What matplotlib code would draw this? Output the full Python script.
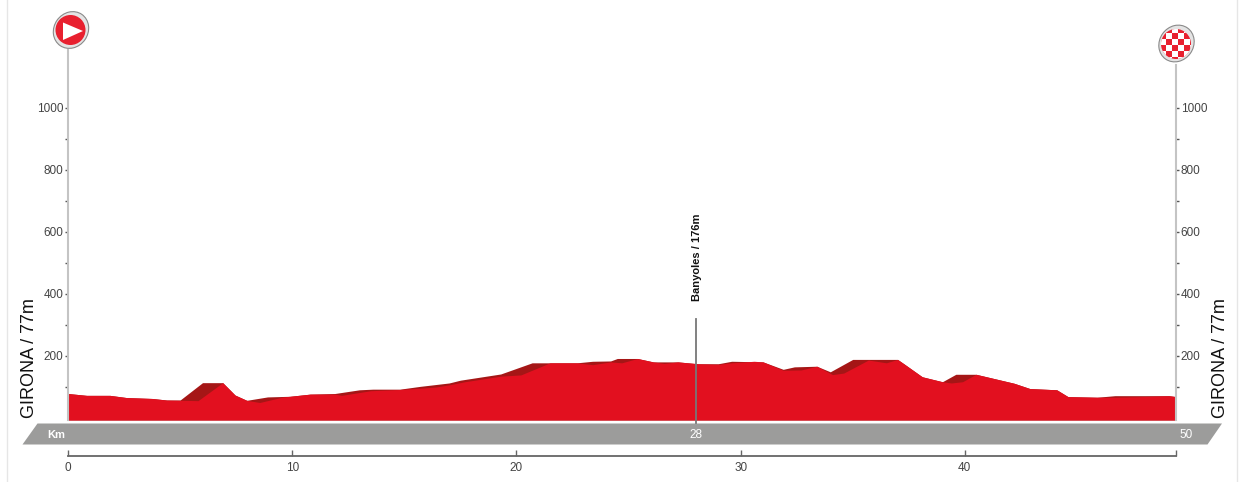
from matplotlib.patches import Ellipse, Polygon, Rectangle
import matplotlib.pyplot as plt

# Perfil trasero (oscuro) y frontal (rojo vivo), km / metros.
back_km = [0, 0.83, 1.87, 2.6, 3.75, 4.4, 5.0, 6.0, 6.9, 7.45, 7.97, 8.9, 9.9, 10.8, 11.9, 13.0,
           13.6, 14.8, 15.7, 17.0, 17.5, 19.3, 20.7, 22.7, 23.4, 24.2, 24.5, 25.4, 26.1, 27.2,
           28.1, 29.0, 29.6, 31.0, 31.9, 32.4, 33.4, 34.0, 35.0, 37.0, 37.3, 38.1, 39.0, 39.6,
           40.5, 42.2, 42.9, 44.1, 44.6, 45.9, 46.7, 49.1, 49.42]
back_m = [79, 73, 73, 66, 63, 58, 58, 114, 114, 74, 57, 68, 70, 77, 79, 91,
          93, 93, 102, 113, 122, 142, 178, 178, 183, 184, 192, 192, 181, 181,
          175, 175, 183, 181, 157, 165, 167, 149, 189, 189, 174, 133, 117, 141,
          141, 112, 95, 91, 69, 67, 72, 72, 69]

front_km = [0, 0.83, 1.87, 2.6, 3.75, 4.4, 5.8, 6.9, 7.45, 7.97, 8.55, 9.6, 9.9, 10.8, 11.9, 12.2,
            13.5, 14.8, 15.7, 16.4, 17.0, 17.7, 19.3, 20.2, 21.5, 22.7, 23.4, 24.2, 24.7, 25.4,
            26.1, 26.6, 27.2, 28.1, 29.0, 29.6, 30.6, 31.0, 31.9, 32.7, 33.4, 34.1, 34.6, 35.7,
            36.5, 37.0, 37.3, 38.1, 39.0, 39.4, 39.9, 40.5, 42.2, 42.9, 44.1, 44.6, 45.9, 46.7,
            47.9, 49.1, 49.42]
front_m = [79, 73, 73, 66, 63, 58, 56, 114, 74, 57, 50, 68, 70, 77, 77, 73,
           88, 92, 96, 100, 107, 117, 135, 139, 178, 178, 172, 181, 178, 192,
           181, 176, 181, 175, 173, 178, 183, 181, 154, 155, 167, 140, 145, 187,
           178, 189, 174, 133, 117, 113, 117, 141, 112, 95, 91, 69, 67, 67,
           69, 72, 69]

elev_ticks = [100, 200, 300, 400, 500, 600, 700, 800, 900, 1000]
elev_labels = ["", "200", "", "400", "", "600", "", "800", "", "1000"]
km_ticks = [0, 10, 20, 30, 40, 49.42]
km_labels = ["0", "10", "20", "30", "40", ""]

climb_km = 28
climb_label = "Banyoles / 176m"
town_label = "GIRONA / 77m"
total_km = "50"

W, H = 1245, 482
RED = "#e2101f"
DARK = "#a51616"
BAND = "#9c9c9b"
plt.rcParams["font.family"] = ["Liberation Sans", "DejaVu Sans"]

fig = plt.figure(figsize=(W / 100, H / 100), dpi=100)

# Capa en pixeles para los adornos.
deco = fig.add_axes([0, 0, 1, 1], zorder=0)
deco.set_xlim(0, W)
deco.set_ylim(H, 0)
deco.axis("off")
deco.plot([7, 7], [0, H], color="#e6e6e6", lw=1)
deco.plot([1237, 1237], [0, H], color="#e6e6e6", lw=1)
deco.add_patch(Polygon([(37.5, 423.5), (1222, 423.5), (1207.5, 444.5), (22.5, 444.5)], color=BAND, lw=0))
deco.text(56, 434.5, "Km", color="white", fontsize=8, fontweight="bold", ha="center", va="center")
deco.text(1186, 434.5, total_km, color="white", fontsize=8.5, ha="center", va="center")
deco.text(29.5, 358, town_label, rotation=90, fontsize=13, color="#111111", ha="center", va="center")
deco.text(1220.5, 358, town_label, rotation=90, fontsize=13, color="#111111", ha="center", va="center")

# Iconos de salida y meta.
deco.add_patch(Ellipse((71, 30), 38, 34, angle=-55, fc="#e4e4e4", ec="#8a8a8a", lw=0.8))
deco.add_patch(Ellipse((70.5, 30), 30, 30, fc="#e8202f", lw=0))
deco.add_patch(Polygon([(63, 22.5), (83, 31), (63, 40)], color="white", lw=0))

deco.add_patch(Ellipse((1176.5, 43.5), 38, 34, angle=-55, fc="#e4e4e4", ec="#8a8a8a", lw=0.8))
disc = Ellipse((1176, 44), 30, 30, fc="#e8202f", lw=0)
deco.add_patch(disc)
cell = 6.2
for i in range(-3, 3):
    for j in range(-3, 3):
        if (i + j) % 2 == 0:
            r = Rectangle((1176 + i * cell + 2, 44 + j * cell + 1), cell, cell, color="white", lw=0)
            deco.add_patch(r)
            r.set_clip_path(disc)

# Eje principal: 0 m en y=418 px, 0.31 px por metro.
bottom_px, top_px = 420, 50
ax = fig.add_axes([68 / W, 1 - bottom_px / H, (1176 - 68) / W, (bottom_px - top_px) / H], zorder=1)
ax.patch.set_alpha(0)
ax.set_xlim(0, 49.42)
ax.set_ylim((418 - bottom_px) / 0.31, (418 - top_px) / 0.31)
base = ax.get_ylim()[0]
ax.fill_between(back_km, base, back_m, color=DARK, lw=0)
ax.fill_between(front_km, base, front_m, color=RED, lw=0)

ax.set_xticks([])
ax.set_yticks(elev_ticks)
ax.set_yticklabels(elev_labels)
ax.tick_params(axis="y", which="both", left=True, right=True, labelleft=True, labelright=True,
               length=2.5, width=1, color="#555555", labelcolor="#444444", labelsize=8.5, pad=1)
for s in ["top", "bottom"]:
    ax.spines[s].set_visible(False)
for s in ["left", "right"]:
    ax.spines[s].set_color("#c4c4c4")
    ax.spines[s].set_linewidth(1.5)
ax.spines["right"].set_bounds(base, (418 - 65) / 0.31)

# Marca del punto de paso, baja hasta la banda gris.
ax.plot([climb_km, climb_km], [(418 - 423) / 0.31, (418 - 319) / 0.31], color="#777777", lw=1.3, clip_on=False)
ax.annotate(climb_label, (climb_km + 0.05, (418 - 301) / 0.31), rotation=90, fontsize=8, fontweight="bold",
            color="#111111", ha="center", va="bottom")
ax.annotate(str(climb_km), (climb_km, (418 - 434.5) / 0.31), color="white", fontsize=8.5,
            ha="center", va="center", annotation_clip=False)

# Eje de kilometros abajo.
kax = fig.add_axes([68 / W, 1 - 456 / H, (1176 - 68) / W, 6 / H], zorder=1)
kax.patch.set_alpha(0)
kax.set_xlim(0, 49.42)
kax.set_yticks([])
kax.set_xticks(km_ticks)
kax.set_xticklabels(km_labels)
kax.tick_params(axis="x", direction="in", length=4.3, width=1, color="#666666", labelcolor="#444444",
                labelsize=8.5, pad=4.5)
for s in ["top", "left", "right"]:
    kax.spines[s].set_visible(False)
kax.spines["bottom"].set_color("#666666")
kax.spines["bottom"].set_linewidth(1.3)

fig.savefig("out.png", dpi=100)
plt.close(fig)
